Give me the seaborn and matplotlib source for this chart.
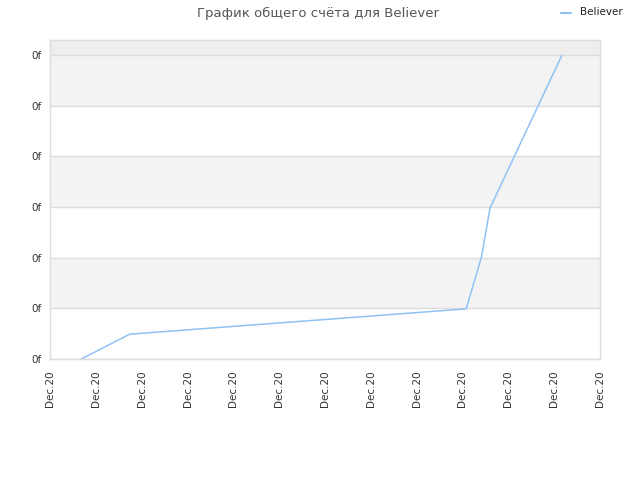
import pandas as pd
import matplotlib
matplotlib.use("Agg")
import matplotlib.pyplot as plt
import seaborn as sns

# -------------------------
# Data
# -------------------------
title = "График общего счёта для Believer"
series_name = "Believer"
x_pos = [0.68, 1.74, 9.08, 9.41, 9.60, 11.17]
scores = [0.0, 0.49, 0.99, 2.0, 2.98, 6.0]
x_tick_labels = ["Dec.20"] * 13
y_tick_labels = ["0f"] * 7

df = pd.DataFrame({"x": x_pos, "score": scores, "series": series_name})

# -------------------------
# Plot
# -------------------------
sns.set_style("white")
plt.rcParams["font.family"] = ["DejaVu Sans"]

fig = plt.figure(figsize=(6.4, 4.8), dpi=100)
ax = fig.add_axes([50 / 640, 121 / 480, 550 / 640, 319 / 480])

# alternating bands
ax.axhspan(6, 6.3, color="#eeeeee", zorder=0, lw=0)
for lo in range(0, 6):
    if lo % 2 == 1:
        ax.axhspan(lo, lo + 1, color="#f3f3f3", zorder=0, lw=0)

sns.lineplot(data=df, x="x", y="score", hue="series", palette=["#90c2f4"],
             linewidth=1.1, ax=ax, legend=False, zorder=3)

ax.set_xlim(0, 12)
ax.set_ylim(0, 6.3)
ax.set_xticks(range(13))
ax.set_xticklabels(x_tick_labels, rotation=90, fontsize=7.5, color="#333333")
ax.set_yticks(range(7))
ax.set_yticklabels(y_tick_labels, fontsize=7.5, color="#333333")
ax.tick_params(axis="x", length=0, pad=8)
ax.tick_params(axis="y", length=0, pad=6)
ax.set_xlabel("")
ax.set_ylabel("")
ax.yaxis.grid(True, color="#dddddd", lw=1, zorder=1)
ax.set_axisbelow(True)
for s in ax.spines.values():
    s.set_color("#dddddd")
    s.set_linewidth(1)

fig.text(318 / 640, 1 - 13 / 480, title, ha="center", va="center",
         fontsize=9.5, color="#555555")
fig.lines.append(plt.Line2D([561 / 640, 571 / 640], [1 - 13 / 480] * 2,
                            transform=fig.transFigure, color="#90c2f4", lw=1.5))
fig.text(580 / 640, 1 - 12 / 480, series_name, ha="left", va="center",
         fontsize=7.5, color="#222222")

fig.savefig("out.png", dpi=100)
